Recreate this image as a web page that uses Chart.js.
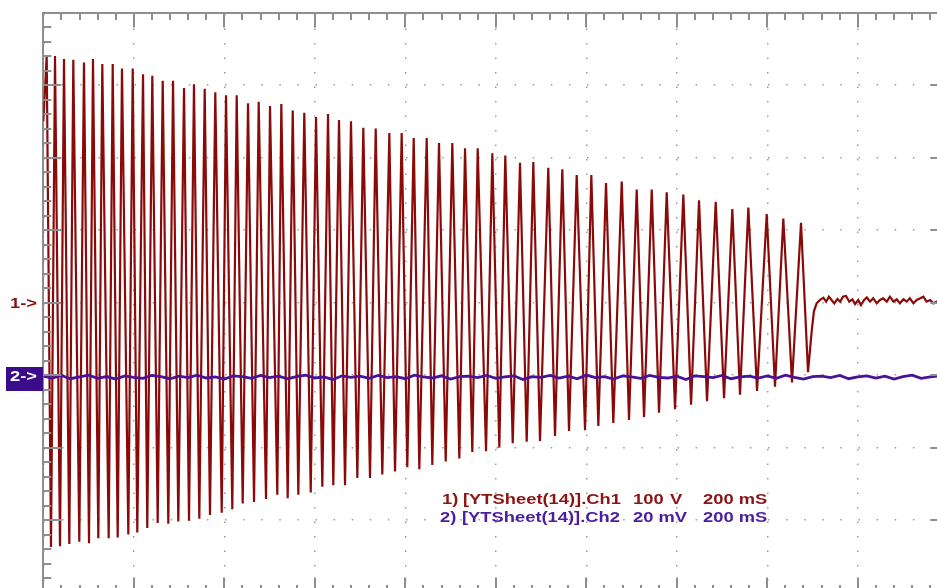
<!DOCTYPE html>
<html><head><meta charset="utf-8">
<script src="https://cdn.jsdelivr.net/npm/chart.js@4.4.1/dist/chart.umd.min.js"></script>
<style>
html,body{margin:0;padding:0;background:#fff;overflow:hidden;width:937px;height:588px;}
#wrap{position:absolute;left:0;top:0;width:960px;height:610px;}
.t{position:absolute;font-family:"Liberation Sans",Arial,sans-serif;font-weight:bold;font-size:14px;white-space:pre;transform-origin:0 0;transform:scaleX(1.31);line-height:14px;}
.m{position:absolute;font-family:"Liberation Sans",Arial,sans-serif;font-weight:bold;font-size:15px;white-space:pre;line-height:15px;transform-origin:0 0;transform:scaleX(1.22);}
.c1{color:#8b1414;}
.c2{color:#4a1e9e;}
</style></head><body>
<div id="wrap"><canvas id="c"></canvas></div>
<div class="m" style="left:10px;top:294.5px;color:#8b1010">1-&gt;</div>
<div style="position:absolute;left:6px;top:367px;width:37px;height:24px;background:#3a0c8a"></div>
<div class="m" style="left:10px;top:368px;color:#ffffff">2-&gt;</div>
<span class="t c1" style="left:442px;top:491.5px">1)</span>
<span class="t c1" style="left:463px;top:491.5px">[YTSheet(14)].Ch1</span>
<span class="t c1" style="left:633px;top:491.5px">100</span>
<span class="t c1" style="left:670px;top:491.5px">V</span>
<span class="t c1" style="left:703px;top:491.5px">200 mS</span>
<span class="t c2" style="left:440px;top:510px">2)</span>
<span class="t c2" style="left:462px;top:510px">[YTSheet(14)].Ch2</span>
<span class="t c2" style="left:633px;top:510px">20 mV</span>
<span class="t c2" style="left:703px;top:510px">200 mS</span>
<script>
// ---- Ch1 (100 V/div, 200 ms/div): extremes ----
const peakTimes = [7.5,25.9,45.7,66.3,89.9,109.8,130.4,153.4,173.9,197.6,220.4,240.9,263.9,286.7,311,333,356.7,380.1,403.8,427.4,452.4,476,501,526,551.2,576.8,602.7,629.2,653.5,680,707.2,734.6,764.7,792,818.6,847.3,874.5,903.9,932,960,992.3,1021,1053.5,1082.9,1116,1147,1178.8,1211.1,1243.6,1278.3,1311.4,1344.6,1377.7,1414.4,1449.1,1486,1522.7,1558.1,1598.7,1635.4,1674.5];
const peakVolts = [340,340,336,335,331,336,329,329,323,323,315,313,306,306,296,301,295,290,286,286,275,277,271,274,265,262,256,260,252,250,241,240,234,234,227,227,220,220,213,213,206,203,193,194,186,184,176,176,165,167,156,156,152,149,141,139,129,131,122,116,110];
const troughTimes = [17,36.9,57.5,79.6,101,121.6,144.5,164.4,187.9,207.7,229.8,252.8,276.3,298.4,322,344.8,368.4,394.3,417.7,440.7,465.7,492.2,517.1,540.1,563.6,591,616.6,640.9,666.8,694,722,749.2,777.3,804.4,831,859.7,889.3,919.4,948.1,978.4,1007.8,1037.4,1068.3,1097.7,1130.9,1161.8,1197.2,1226.6,1259.7,1294.4,1327.6,1360.7,1396.1,1431.5,1466.8,1504.4,1539.7,1577.3,1617,1654.6,1690];
const troughVolts = [-337,-336,-333,-330,-332,-325,-325,-324,-320,-317,-311,-304,-305,-302,-301,-298,-293,-290,-285,-277,-275,-271,-265,-270,-265,-262,-254,-252,-252,-242,-242,-237,-233,-227,-230,-224,-219,-215,-206,-205,-200,-194,-192,-191,-184,-177,-176,-170,-166,-162,-158,-152,-147,-141,-136,-132,-127,-122,-116,-110,-96];
const startTimes = [0];
const startVolts = [250];
const tailTimes = [1698,1703,1709,1716,1724,1730,1736,1742,1748,1755,1761,1767,1774,1781,1788,1794,1801,1807,1814,1820,1827,1834,1842,1849,1856,1864,1871,1879,1886,1893,1901,1908,1915,1923,1930,1938,1945,1952,1960,1967,1975,1990];
const tailVolts = [-40,-12,-1,3.6,6.8,1.3,8.2,3.6,-1,5,1.3,8.2,9.1,1.3,4.5,-1.9,3.6,-3.3,3.6,7.3,1.3,5.9,-1,3.6,5.9,1.3,8.2,1.3,4.5,-1,4.5,1.3,5.9,-1,3.6,5.9,8.2,1.3,3.6,-1,1.3,3];

// ---- Ch2 (20 mV/div): noise around zero ----
const ch2Times = [0,20,40,60,80,100,120,140,160,180,200,220,240,260,280,300,320,340,360,380,400,420,440,460,480,500,520,540,560,580,600,620,640,660,680,700,720,740,760,780,800,820,840,860,880,900,920,940,960,980,1000,1020,1040,1060,1080,1100,1120,1140,1160,1180,1200,1220,1240,1260,1280,1300,1320,1340,1360,1380,1400,1420,1440,1460,1480,1500,1520,1540,1560,1580,1600,1620,1640,1660,1680,1700,1720,1740,1760,1780,1800,1820,1840,1860,1880,1900,1920,1940,1960,1980,2000];
const ch2MilliVolts = [0.3,-0.2,0.5,-0.4,0.1,0.6,-0.3,0.2,-0.5,0.4,0.0,-0.3,0.5,0.2,-0.4,0.3,-0.1,0.6,-0.2,0.1,-0.5,0.4,0.2,-0.3,0.5,-0.1,0.3,-0.4,0.2,0.6,-0.2,0.1,-0.6,0.4,0.0,0.3,-0.3,0.5,-0.1,0.2,-0.4,0.6,0.1,-0.2,0.4,-0.5,0.2,0.3,-0.1,0.5,-0.3,0.1,0.4,-0.6,0.2,0.0,0.5,-0.2,0.3,-0.4,0.6,-0.1,0.2,-0.5,0.4,0.1,-0.3,0.5,0.0,-0.2,0.3,-0.6,0.4,0.2,-0.1,0.5,-0.4,0.1,0.3,-0.2,0.4,-0.3,0.6,0.0,-0.5,0.2,0.3,-0.1,0.5,-0.4,0.1,0.4,-0.2,0.3,-0.5,0.2,0.6,-0.3,0.1,0.4,0.0];

// ---- scope screen settings ----
const timeDivMs = 200, timeDivs = 10, subDivs = 5;
const ch1VoltsPerDiv = 100, ch1DivsUp = 4, ch1DivsDown = 4;
const ch2MvPerDiv = 20, ch2ZeroDivsFromTop = 5.03;

function pts(ts, vs){ return ts.map((t,i)=>({x:t,y:vs[i]})); }
const ch1Data = [].concat(pts(startTimes,startVolts), pts(peakTimes,peakVolts), pts(troughTimes,troughVolts), pts(tailTimes,tailVolts)).sort((a,b)=>a.x-b.x);
const ch2Data = pts(ch2Times, ch2MilliVolts);

const tickColor = '#8e8e8e';
const scopeTicks = {
  id:'scopeTicks',
  afterDraw(chart){
    const {ctx, chartArea:a, scales} = chart;
    const x = scales.x, y = scales.y;
    ctx.save();
    ctx.strokeStyle = tickColor; ctx.lineWidth = 2;
    ctx.beginPath();
    const xStep = timeDivMs/subDivs;
    for (let k=0; k<=timeDivs*subDivs; k++){
      const px = Math.round(x.getPixelForValue(k*xStep));
      const len = (k%subDivs===0) ? 15 : 7.5;
      ctx.moveTo(px, a.top); ctx.lineTo(px, a.top+len);
      ctx.moveTo(px, a.bottom); ctx.lineTo(px, a.bottom-len);
    }
    const yStep = ch1VoltsPerDiv/subDivs;
    const nY = (ch1DivsUp+ch1DivsDown)*subDivs;
    for (let k=0; k<=nY; k++){
      const py = Math.round(y.getPixelForValue(-ch1DivsDown*ch1VoltsPerDiv + k*yStep));
      const len = (k%subDivs===0) ? 18 : 8;
      ctx.moveTo(a.left, py); ctx.lineTo(a.left+len, py);
      ctx.moveTo(a.right, py); ctx.lineTo(a.right-len, py);
    }
    ctx.stroke();
    ctx.restore();
  }
};

const ch2Max = ch2ZeroDivsFromTop*ch2MvPerDiv;
const ch2Min = -((ch1DivsUp+ch1DivsDown)-ch2ZeroDivsFromTop)*ch2MvPerDiv;

new Chart(document.getElementById('c'), {
  type:'line',
  data:{ datasets:[
    { label:'Ch2', data:ch2Data, yAxisID:'y2', borderColor:'#4a1296', borderWidth:2.8, pointRadius:0, tension:0 },
    { label:'Ch1', data:ch1Data, yAxisID:'y', borderColor:'#8a0a0a', borderWidth:2.2, pointRadius:0, tension:0 }
  ]},
  options:{
    responsive:true, maintainAspectRatio:false, animation:false,
    layout:{ padding:{ left:43.3, top:12.6, right:11.7, bottom:17.4 } },
    plugins:{ legend:{display:false}, tooltip:{enabled:false} },
    scales:{
      x:{ type:'linear', position:'top', min:0, max:timeDivMs*timeDivs,
          ticks:{ display:false, stepSize:timeDivMs },
          grid:{ color:'#9a9a9a', lineWidth:1.5, drawTicks:false, tickLength:0 },
          border:{ display:true, color:tickColor, width:2, dash:[1.5,13] } },
      y:{ type:'linear', position:'left', min:-ch1DivsDown*ch1VoltsPerDiv, max:ch1DivsUp*ch1VoltsPerDiv,
          ticks:{ display:false, stepSize:ch1VoltsPerDiv },
          grid:{ color:'#9a9a9a', lineWidth:1.5, drawTicks:false, tickLength:0 },
          border:{ display:true, color:tickColor, width:2, dash:[1.5,16.6] } },
      y2:{ type:'linear', display:false, min:ch2Min, max:ch2Max }
    }
  },
  plugins:[scopeTicks]
});
</script>
</body></html>
